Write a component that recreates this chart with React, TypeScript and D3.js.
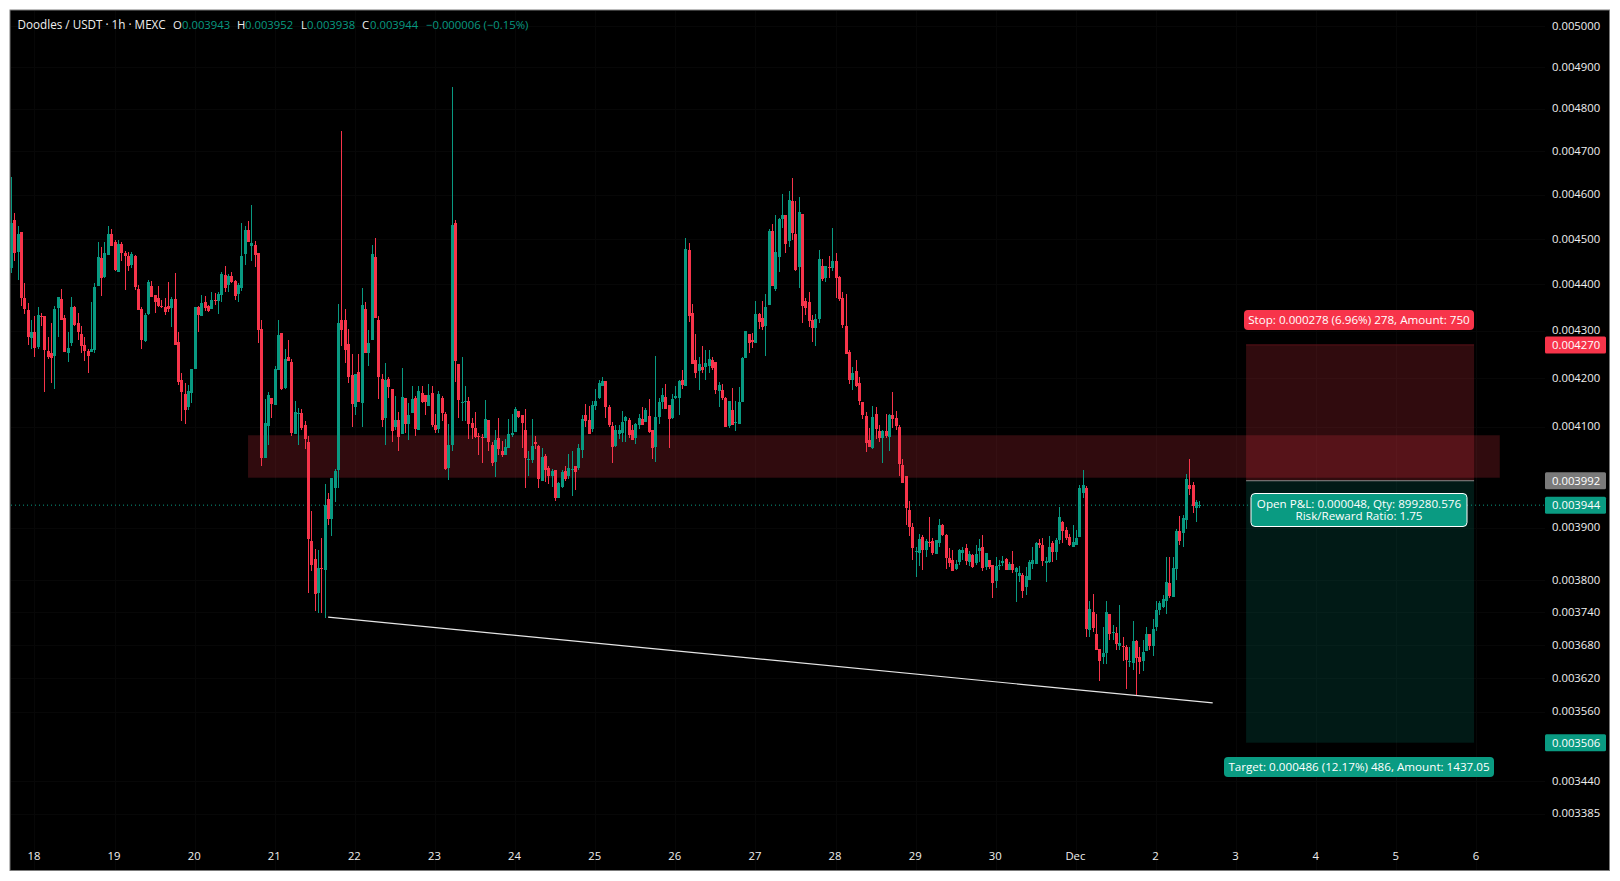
import { useRef, useEffect } from "react";
import * as d3 from "d3";

// prices are in millionths of USDT (3944 = 0.003944), rows are [open, high, low, close]
type Row = number[];

const nov17to21: Row[] = [
  [4435,4640,4424,4535],[4543,4558,4451,4470],[4472,4529,4410,4512],[4516,4516,4353,4371],[4370,4402,4336,4347],
  [4345,4359,4270,4287],[4285,4323,4262,4298],[4298,4332,4245,4264],[4266,4351,4262,4333],[4332,4338,4311,4331],
  [4332,4332,4172,4260],[4258,4287,4241,4245],[4252,4317,4191,4243],[4247,4353,4178,4347],[4349,4372,4287,4372],
  [4368,4390,4323,4323],[4327,4333,4254,4254],[4252,4298,4233,4264],[4273,4372,4268,4351],[4351,4353,4311,4313],
  [4317,4338,4281,4298],[4294,4311,4252,4268],[4270,4287,4237,4258],[4258,4262,4210,4247],[4256,4362,4254,4262],
  [4260,4402,4252,4394],[4396,4494,4396,4460],[4458,4483,4375,4414],[4416,4494,4414,4469],[4465,4529,4465,4512],
  [4512,4523,4485,4485],[4494,4498,4430,4432],[4427,4498,4427,4489],[4489,4494,4451,4469],[4469,4474,4388,4463],
  [4463,4472,4430,4440],[4443,4472,4436,4467],[4463,4465,4388,4394],[4390,4399,4345,4345],[4347,4351,4262,4281],
  [4279,4338,4277,4334],[4336,4410,4334,4406],[4397,4408,4372,4372],[4377,4377,4338,4362],[4370,4397,4351,4353],
  [4353,4366,4349,4351],[4351,4370,4334,4340],[4353,4406,4340,4347],[4349,4372,4308,4368],[4368,4425,4270,4270],
  [4277,4298,4185,4193],[4197,4210,4112,4172],[4168,4191,4106,4135],[4141,4185,4135,4174],[4170,4220,4149,4220],
  [4220,4351,4220,4351],[4351,4353,4298,4334],[4332,4377,4332,4360],[4362,4375,4343,4349],[4353,4355,4340,4343],
  [4347,4383,4347,4366],[4366,4381,4355,4364],[4364,4383,4336,4379],[4377,4427,4362,4423],[4421,4440,4383,4392],
  [4399,4423,4383,4419],[4419,4427,4403,4406],[4408,4410,4366,4375],[4379,4403,4362,4399],[4392,4536,4386,4463],
  [4467,4529,4443,4520],[4520,4541,4494,4494],[4485,4577,4451,4491],[4487,4496,4438,4465],[4470,4470,4274,4302],
  [4304,4323,4021,4037],[4037,4157,4037,4108],[4102,4172,4064,4165],[4159,4159,4118,4147],[4145,4226,4145,4220],
  [4218,4323,4218,4291],[4296,4296,4176,4178],[4180,4262,4178,4241],[4245,4281,4237,4237],[4233,4241,4082,4088],
  [4086,4153,4086,4131],[4127,4139,4064,4128],[4128,4137,4094,4098],[4104,4112,4056,4076],
];

const nov21to25: Row[] = [
  [4069,4081,3776,3878],[3874,3932,3817,3829],[3840,3859,3743,3775],[3776,3857,3739,3823],[3824,3880,3739,3822],
  [3819,3985,3729,3944],[3956,3968,3905,3917],[3917,3998,3884,3997],[3978,4015,3950,4011],[4013,4357,3978,4316],
  [4322,4747,4267,4301],[4322,4346,4232,4259],[4272,4303,4190,4202],[4207,4251,4099,4147],[4140,4209,4124,4209],
  [4213,4251,4150,4150],[4149,4392,4099,4355],[4346,4361,4253,4253],[4253,4301,4225,4275],[4280,4486,4280,4466],
  [4461,4502,4327,4327],[4322,4331,4157,4202],[4198,4209,4099,4114],[4118,4232,4063,4196],[4198,4202,4159,4182],
  [4178,4178,4069,4091],[4099,4163,4094,4114],[4114,4130,4051,4079],[4086,4222,4086,4161],[4159,4159,4088,4106],
  [4106,4149,4073,4124],[4129,4184,4129,4157],[4159,4163,4081,4096],[4094,4184,4094,4173],[4170,4184,4149,4150],
  [4165,4165,4124,4150],[4143,4188,4143,4165],[4170,4184,4099,4104],[4104,4127,4088,4094],[4096,4173,4088,4167],
  [4159,4163,4112,4129],[4127,4130,4013,4015],[4017,4106,3993,4063],[4063,4852,4051,4531],[4536,4542,4192,4236],
  [4230,4230,4118,4155],[4149,4244,4112,4150],[4150,4184,4112,4153],[4153,4161,4075,4106],[4108,4118,4075,4098],
  [4098,4130,4077,4079],[4081,4088,4043,4079],[4079,4086,4027,4078],[4078,4155,4078,4116],[4114,4114,4051,4069],
  [4063,4069,4021,4027],[4029,4094,3999,4073],[4077,4118,4043,4055],[4051,4071,4039,4043],[4043,4075,4043,4059],
  [4057,4116,4057,4086],[4083,4127,4079,4088],[4089,4141,4089,4137],[4133,4133,4118,4120],[4124,4124,4057,4108],
  [4094,4137,3978,4037],[4033,4051,4001,4035],[4033,4116,4027,4061],[4069,4081,4055,4065],[4061,4063,3978,3995],
  [3991,4057,3991,4039],[4041,4045,3989,4013],[4017,4021,3985,4001],[4001,4015,3979,4011],[4013,4013,3952,3958],
  [3959,3989,3958,3987],[3979,4013,3978,4009],[4011,4021,3991,3995],[4001,4045,3995,4017],[4013,4051,3961,4015],
  [4021,4021,3973,4009],[4017,4065,4013,4057],[4053,4124,4037,4116],[4124,4147,4099,4112],
];

const nov25to29: Row[] = [
  [4115,4143,4085,4085],[4095,4152,4089,4145],[4143,4178,4135,4153],[4159,4197,4157,4190],[4183,4203,4183,4195],
  [4195,4195,4118,4141],[4141,4145,4099,4103],[4101,4110,4027,4059],[4061,4103,4059,4093],[4085,4103,4075,4093],
  [4087,4132,4069,4110],[4112,4122,4069,4120],[4114,4118,4077,4083],[4093,4103,4073,4073],[4077,4107,4065,4105],
  [4103,4126,4095,4118],[4116,4141,4103,4103],[4110,4139,4110,4135],[4122,4157,4087,4089],[4093,4093,4035,4057],
  [4059,4246,4029,4120],[4120,4159,4105,4151],[4151,4180,4137,4166],[4161,4188,4137,4137],[4145,4145,4057,4116],
  [4118,4168,4116,4157],[4159,4184,4157,4163],[4159,4197,4124,4195],[4197,4217,4178,4186],[4184,4502,4184,4478],
  [4475,4491,4319,4332],[4338,4357,4230,4230],[4238,4293,4201,4211],[4215,4244,4176,4230],[4224,4268,4211,4217],
  [4224,4259,4197,4232],[4226,4259,4211,4240],[4238,4244,4217,4221],[4234,4234,4168,4176],[4174,4192,4141,4186],
  [4176,4188,4155,4159],[4159,4161,4099,4099],[4101,4153,4097,4153],[4135,4180,4103,4103],[4108,4153,4091,4110],
  [4105,4182,4105,4151],[4151,4244,4151,4242],[4242,4300,4242,4300],[4293,4293,4253,4274],[4280,4296,4263,4276],
  [4274,4363,4274,4336],[4336,4338,4304,4319],[4327,4363,4302,4308],[4310,4379,4246,4351],[4355,4522,4355,4517],
  [4517,4533,4396,4396],[4389,4553,4385,4471],[4460,4548,4427,4544],[4544,4601,4524,4553],[4553,4553,4469,4489],
  [4495,4608,4482,4588],[4585,4638,4497,4513],[4511,4585,4429,4431],[4438,4595,4392,4561],[4556,4556,4317,4353],
  [4364,4370,4334,4349],[4361,4383,4308,4321],[4323,4334,4276,4306],[4306,4336,4268,4325],[4325,4475,4317,4455],
  [4440,4455,4407,4411],[4414,4440,4405,4440],[4438,4462,4414,4435],[4435,4524,4429,4451],[4451,4469,4370,4414],
  [4416,4418,4364,4368],[4370,4383,4306,4313],[4310,4379,4251,4251],[4255,4259,4188,4197],[4197,4224,4176,4211],
  [4215,4238,4182,4184],[4190,4203,4145,4153],[4151,4151,4116,4124],[4122,4130,4049,4067],[4073,4097,4059,4059],
  [4057,4143,4055,4120],[4126,4141,4075,4095],[4091,4103,4069,4077],[4077,4093,4027,4091],[4091,4126,4077,4081],
  [4079,4126,4051,4124],[4124,4172,4097,4116],[4118,4132,4093,4101],[4099,4103,4001,4025],[4023,4035,3987,3987],
];

const nov29toDec2: Row[] = [
  [4001,4001,3905,3938],[3935,3952,3884,3902],[3902,3909,3838,3861],[3854,3863,3806,3856],[3852,3888,3827,3879],
  [3882,3886,3819,3858],[3858,3879,3844,3875],[3873,3921,3863,3871],[3875,3881,3848,3852],[3850,3877,3850,3877],
  [3871,3917,3863,3905],[3905,3907,3884,3886],[3886,3888,3821,3842],[3842,3861,3825,3833],[3838,3858,3817,3817],
  [3821,3838,3819,3831],[3835,3860,3829,3858],[3852,3863,3838,3858],[3861,3869,3829,3836],[3835,3855,3827,3850],
  [3848,3850,3823,3825],[3833,3867,3829,3850],[3856,3879,3835,3861],[3863,3886,3817,3823],[3825,3852,3819,3852],
  [3838,3838,3821,3825],[3829,3829,3766,3794],[3798,3844,3785,3827],[3827,3838,3819,3829],[3833,3846,3827,3836],
  [3840,3842,3819,3819],[3819,3835,3819,3831],[3831,3856,3813,3819],[3815,3825,3760,3823],[3808,3827,3796,3813],
  [3810,3813,3766,3780],[3787,3825,3772,3808],[3800,3838,3800,3835],[3831,3863,3821,3838],[3831,3873,3831,3871],
  [3871,3879,3861,3867],[3867,3881,3827,3836],[3833,3844,3796,3836],[3835,3884,3833,3863],[3871,3875,3835,3854],
  [3854,3881,3838,3877],[3877,3940,3869,3921],[3911,3913,3871,3894],[3896,3902,3877,3881],[3883,3888,3865,3867],
  [3863,3905,3863,3873],[3867,3896,3867,3881],[3883,3983,3883,3977],[3968,4013,3958,3983],[3977,3981,3694,3709],
  [3707,3761,3694,3746],[3741,3774,3703,3711],[3700,3737,3671,3671],[3673,3673,3615,3651],[3658,3713,3646,3665],
  [3665,3761,3646,3740],[3737,3737,3689,3700],[3702,3717,3689,3704],[3702,3713,3671,3682],[3678,3753,3671,3684],
  [3678,3695,3651,3676],[3676,3680,3601,3653],[3649,3676,3640,3651],[3647,3724,3635,3687],[3687,3689,3588,3656],
  [3658,3676,3628,3649],[3651,3689,3633,3667],[3669,3713,3669,3700],[3700,3700,3671,3678],[3678,3727,3660,3709],
  [3713,3761,3705,3744],[3744,3761,3735,3757],[3750,3772,3748,3765],[3761,3844,3737,3796],[3794,3844,3766,3770],
  [3768,3844,3768,3823],[3821,3898,3800,3894],[3894,3923,3867,3875],[3890,3925,3863,3919],[3915,4005,3898,3995],
  [3983,4035,3964,3975],[3983,3989,3929,3942],[3938,3954,3911,3950],[3943,3952,3938,3944],
];

const candles = [...nov17to21, ...nov21to25, ...nov25to29, ...nov29toDec2];
const firstHour = -7; // first visible bar, in hours from Nov 18 00:00

const priceTicks = [5000, 4900, 4800, 4700, 4600, 4500, 4400, 4300, 4200, 4100, 3900, 3800, 3740, 3680, 3620, 3560, 3440, 3385];
const dayLabels = ["18", "19", "20", "21", "22", "23", "24", "25", "26", "27", "28", "29", "30", "Dec", "2", "3", "4", "5", "6"];

const stopPrice = 4270;
const entryPrice = 3992;
const lastPrice = 3944;
const targetPrice = 3506;
const positionHours = [363, 431.3];
const zoneHours = [64, 439];
const zonePrices = [4083, 3998];
const trendHours = [88, 353];
const trendPrices = [3731, 3576];

const legendParts = [
  { t: "Doodles / USDT · 1h · MEXC", x: 17.5, c: "#efefef", s: 11.7 },
  { t: "O", x: 173, c: "#efefef", s: 11.3 },
  { t: "0.003943", x: 182, c: "#089981", s: 11.3 },
  { t: "H", x: 237, c: "#efefef", s: 11.3 },
  { t: "0.003952", x: 245, c: "#089981", s: 11.3 },
  { t: "L", x: 301, c: "#efefef", s: 11.3 },
  { t: "0.003938", x: 307, c: "#089981", s: 11.3 },
  { t: "C", x: 362, c: "#efefef", s: 11.3 },
  { t: "0.003944", x: 370, c: "#089981", s: 11.3 },
  { t: "−0.000006 (−0.15%)", x: 426, c: "#089981", s: 11.3 },
];

const RED = "#f7344a";
const GREEN = "#089981";
const FONT = "'Open Sans', sans-serif";

export default function App() {
  const svgRef = useRef<SVGSVGElement>(null);

  useEffect(() => {
    const svg = d3.select(svgRef.current);
    svg.selectAll("*").remove();

    const x = d3.scaleLinear().domain([0, 432]).range([34.4, 1476.4]);
    const y = d3.scaleLog().domain([3385, 5000]).range([813.6, 26.4]);

    svg.append("rect").attr("x", 10).attr("y", 10).attr("width", 1599.5).attr("height", 860.5)
      .attr("fill", "#000").attr("stroke", "#7b7b7b");

    svg.append("clipPath").attr("id", "plot").append("rect")
      .attr("x", 10.5).attr("y", 11).attr("width", 1598).attr("height", 859);

    // faint grid
    const grid = svg.append("g").attr("stroke", "#070707").attr("shape-rendering", "crispEdges");
    grid.selectAll("line.v").data(dayLabels).join("line").attr("class", "v")
      .attr("x1", (_, i) => Math.round(x(i * 24))).attr("x2", (_, i) => Math.round(x(i * 24)))
      .attr("y1", 11).attr("y2", 870);
    grid.selectAll("line.h").data(priceTicks).join("line").attr("class", "h")
      .attr("x1", 11).attr("x2", 1545)
      .attr("y1", (d) => Math.round(y(d))).attr("y2", (d) => Math.round(y(d)));

    // resistance zone and long position box
    svg.append("rect")
      .attr("x", x(zoneHours[0])).attr("width", x(zoneHours[1]) - x(zoneHours[0]))
      .attr("y", y(zonePrices[0])).attr("height", y(zonePrices[1]) - y(zonePrices[0]))
      .attr("fill", "rgba(242,54,69,0.2)");
    const boxX = x(positionHours[0]);
    const boxW = x(positionHours[1]) - boxX;
    svg.append("rect").attr("x", boxX).attr("width", boxW)
      .attr("y", y(stopPrice)).attr("height", y(entryPrice) - y(stopPrice))
      .attr("fill", "rgba(242,54,69,0.2)");
    svg.append("rect").attr("x", boxX).attr("width", boxW)
      .attr("y", y(entryPrice)).attr("height", y(targetPrice) - y(entryPrice))
      .attr("fill", "rgba(8,153,129,0.17)");
    svg.append("line").attr("x1", boxX).attr("x2", boxX + boxW)
      .attr("y1", y(stopPrice)).attr("y2", y(stopPrice)).attr("stroke", "#5c1219");
    svg.append("line").attr("x1", boxX).attr("x2", boxX + boxW)
      .attr("y1", y(entryPrice)).attr("y2", y(entryPrice)).attr("stroke", "#8a8a8a");

    // last price line
    svg.append("line").attr("x1", 11).attr("x2", 1545)
      .attr("y1", y(lastPrice)).attr("y2", y(lastPrice))
      .attr("stroke", GREEN).attr("stroke-dasharray", "1 3");

    // candles
    const barX = (i: number) => Math.round(x(firstHour + i));
    const plot = svg.append("g").attr("clip-path", "url(#plot)").attr("shape-rendering", "crispEdges");
    const color = (d: Row) => (d[3] >= d[0] ? GREEN : RED);
    plot.selectAll("rect.wick").data(candles).join("rect").attr("class", "wick")
      .attr("x", (_, i) => barX(i)).attr("width", 1)
      .attr("y", (d) => Math.round(y(d[1])))
      .attr("height", (d) => Math.max(1, Math.round(y(d[2])) - Math.round(y(d[1]))))
      .attr("fill", color);
    plot.selectAll("rect.body").data(candles).join("rect").attr("class", "body")
      .attr("x", (_, i) => barX(i) - 1).attr("width", 3)
      .attr("y", (d) => Math.round(y(Math.max(d[0], d[3]))))
      .attr("height", (d) => Math.max(1, Math.round(y(Math.min(d[0], d[3]))) - Math.round(y(Math.max(d[0], d[3])))))
      .attr("fill", color);

    // support trend line
    const trend = d3.line<number>().x((d) => x(d)).y((_, i) => y(trendPrices[i]));
    svg.append("path").attr("d", trend(trendHours)).attr("fill", "none")
      .attr("stroke", "#e6e6e6").attr("stroke-width", 1.2);

    // axes
    const yAxis = d3.axisRight(y).tickValues(priceTicks).tickSize(0).tickPadding(0)
      .tickFormat((d) => (+d / 1e6).toFixed(6));
    const yG = svg.append("g").attr("transform", "translate(1552,-0.6)").call(yAxis as any);
    yG.select(".domain").remove();
    yG.selectAll("text").attr("fill", "#efefef").attr("font-size", 11.3).attr("font-family", FONT);

    const xAxis = d3.axisBottom(x).tickValues(dayLabels.map((_, i) => i * 24)).tickSize(0).tickPadding(0)
      .tickFormat((_, i) => dayLabels[i]);
    const xG = svg.append("g").attr("transform", "translate(-1,852)").call(xAxis as any);
    xG.select(".domain").remove();
    xG.selectAll("text").attr("fill", "#efefef").attr("font-size", 11.3).attr("font-family", FONT);

    // legend
    svg.append("g").selectAll("text").data(legendParts).join("text")
      .attr("x", (d) => d.x).attr("y", 29).attr("fill", (d) => d.c)
      .attr("font-size", (d) => d.s).attr("font-family", FONT)
      .text((d) => d.t);

    // price tags
    const tags = [
      { p: stopPrice, c: RED },
      { p: entryPrice, c: "#7a7a7a" },
      { p: lastPrice, c: "#0a9b82" },
      { p: targetPrice, c: "#0a9b82" },
    ];
    const tag = svg.append("g").selectAll("g").data(tags).join("g")
      .attr("transform", (d) => `translate(0,${y(d.p)})`);
    tag.append("rect").attr("x", 1545).attr("y", -8.5).attr("width", 61).attr("height", 17).attr("rx", 1.5)
      .attr("fill", (d) => d.c);
    tag.append("text").attr("x", 1552).attr("dy", "0.36em").attr("fill", "#fff")
      .attr("font-size", 11.3).attr("font-family", FONT)
      .text((d) => (d.p / 1e6).toFixed(6));

    // position labels
    const labels = [
      { lines: ["Stop: 0.000278 (6.96%) 278, Amount: 750"], x: 1244, w: 230, top: 310, h: 20, c: RED },
      { lines: ["Target: 0.000486 (12.17%) 486, Amount: 1437.05"], x: 1224, w: 270, top: 757, h: 20, c: "#0a9b82" },
      { lines: ["Open P&L: 0.000048, Qty: 899280.576", "Risk/Reward Ratio: 1.75"], x: 1251, w: 216, top: 493.5, h: 33, c: "#0a9b82", stroke: "#fff" },
    ];
    labels.forEach((l) => {
      svg.append("rect").attr("x", l.x).attr("y", l.top).attr("width", l.w).attr("height", l.h).attr("rx", 4)
        .attr("fill", l.c).attr("stroke", l.stroke ?? "none");
      l.lines.forEach((s, i) => {
        svg.append("text").attr("x", l.x + l.w / 2)
          .attr("y", l.top + l.h / 2 + (i - (l.lines.length - 1) / 2) * 12)
          .attr("dy", "0.36em").attr("text-anchor", "middle").attr("fill", "#fff")
          .attr("font-size", 11.65).attr("font-family", FONT).text(s);
      });
    });
  }, []);

  return (
    <svg
      ref={svgRef}
      width={1620}
      height={881}
      style={{ position: "absolute", left: 0, top: 0, display: "block", background: "#fff" }}
    />
  );
}
